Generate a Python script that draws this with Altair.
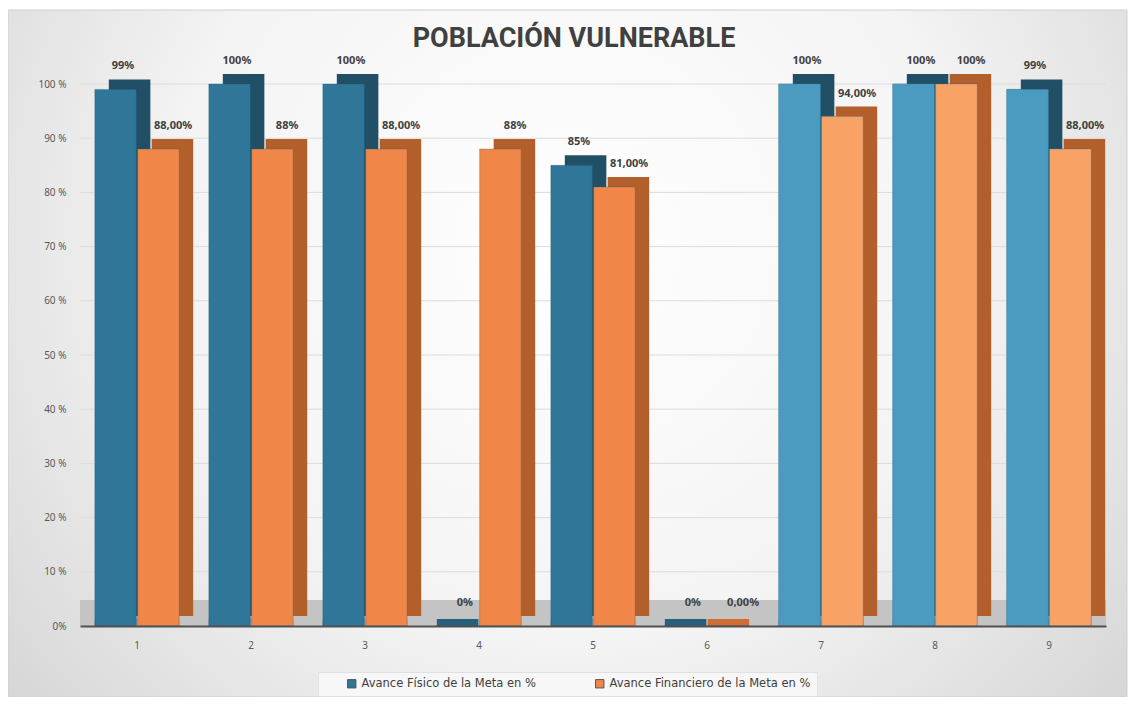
import altair as alt
import pandas as pd

categorias = ["1", "2", "3", "4", "5", "6", "7", "8", "9"]
series = ["Avance Físico de la Meta en %", "Avance Financiero de la Meta en %"]
fisico = [99, 100, 100, 0, 85, 0, 100, 100, 99]
financiero = [88, 88, 88, 88, 81, 0, 94, 100, 88]
etiq_fisico = ["99%", "100%", "100%", "0%", "85%", "0%", "100%", "100%", "99%"]
etiq_financiero = ["88,00%", "88%", "88,00%", "88%", "81,00%", "0,00%", "94,00%", "100%", "88,00%"]
ticks_y = [10, 20, 30, 40, 50, 60, 70, 80, 90, 100]
cats_claras = ["7", "8", "9"]
titulo = "POBLACIÓN VULNERABLE"

rows = []
for c, v, t in zip(categorias, fisico, etiq_fisico):
    rows.append({"cat": c, "serie": series[0], "valor": v, "etiqueta": t})
for c, v, t in zip(categorias, financiero, etiq_financiero):
    rows.append({"cat": c, "serie": series[1], "valor": v, "etiqueta": t})
df = pd.DataFrame(rows)

W, H = 1026, 542
PL, PT, PR, PB = 72, 76, 23, 71
DEPTH_X, DEPTH_Y = 14, -10

xscale = alt.Scale(paddingInner=0.26, paddingOuter=0.13)
xenc = alt.X("cat:N", sort=categorias, scale=xscale,
             axis=alt.Axis(title=None, labelAngle=0, ticks=False, labelPadding=14,
                           domainColor="#505050", domainWidth=2, zindex=1,
                           labelColor="#595959", labelFontSize=10, labelFont="Noto Sans"))
band = W / 9 * 0.74
xoff = alt.XOffset("serie:N", sort=series,
                   scale=alt.Scale(domain=series, paddingInner=0.03))
xoff_depth = alt.XOffset("serie:N", sort=series,
                         scale=alt.Scale(domain=series, paddingInner=0.03,
                                         range=[DEPTH_X, band + DEPTH_X]))
yscale = alt.Scale(domain=[0, 100])
yenc = alt.Y("valor:Q", scale=yscale,
             axis=alt.Axis(title=None, values=[0, 10, 20, 30, 40, 50, 60, 70, 80, 90, 100],
                           labelExpr="datum.value == 0 ? '0%' : datum.value + ' %'",
                           grid=False, ticks=False, domain=False, labelPadding=14, zindex=1,
                           labelColor="#595959", labelFontSize=10, labelFont="Noto Sans"))

fondo = alt.Chart(alt.Data(values=[{}])).mark_rect(
    color=alt.RadialGradient(
        gradient="radial", x1=0.5, y1=0.4, x2=0.5, y2=0.4, r1=0, r2=0.78,
        stops=[alt.GradientStop(offset=0, color="#ffffff"),
               alt.GradientStop(offset=0.45, color="#f4f4f4"),
               alt.GradientStop(offset=1, color="#c9c9c9")]),
    stroke="#d0d0d0", strokeWidth=1
).encode(x=alt.value(-PL), x2=alt.value(W + PR - 2),
         y=alt.value(-PT + 2), y2=alt.value(H + PB))

titulo_txt = alt.Chart(alt.Data(values=[{}])).mark_text(
    text=titulo, font="Roboto", fontSize=27, fontWeight="bold", color="#404040",
    align="center", baseline="alphabetic"
).encode(x=alt.value(W / 2 - 19), y=alt.value(-37))

piso = alt.Chart(alt.Data(values=[{}])).mark_rect(color="#c4c4c4").encode(
    x=alt.value(0), x2=alt.value(W), y=alt.value(H - 26), y2=alt.value(H))

grid = alt.Chart(pd.DataFrame({"t": ticks_y})).mark_rule(color="#dcdcdc", strokeWidth=1).encode(
    y=alt.Y("t:Q", scale=yscale), x=alt.value(0), x2=alt.value(W))

base = alt.Chart(df)

profundidad = base.mark_bar(yOffset=DEPTH_Y, y2Offset=DEPTH_Y).encode(
    x=xenc, xOffset=xoff_depth, y=yenc, y2=alt.datum(0),
    color=alt.Color("serie:N", sort=series,
                    scale=alt.Scale(domain=series, range=["#214f66", "#b35f2c"]), legend=None))

losa = base.mark_bar(yOffset=-7, y2Offset=0).encode(
    x=xenc, xOffset=xoff, y=alt.datum(0, scale=yscale), y2=alt.datum(0),
    color=alt.Color("serie:N", sort=series,
                    scale=alt.Scale(domain=series, range=["#285f7a", "#cf6d33"]), legend=None))

frente = base.mark_bar(stroke="#1f5a78", strokeWidth=0.6, strokeOpacity=0.5).encode(
    x=xenc, xOffset=xoff, y=yenc,
    color=alt.Color("serie:N", sort=series,
                    scale=alt.Scale(domain=series, range=["#2f7699", "#f08647"]),
                    legend=alt.Legend(title=None, orient="none", direction="horizontal",
                                      legendX=238, legendY=588, symbolType="square",
                                      symbolSize=70, labelFontSize=11.5, labelColor="#404040",
                                      labelFont="DejaVu Sans", columnPadding=36, labelLimit=400,
                                      fillColor="#f7f7f7", strokeColor="#e0e0e0",
                                      padding=6, symbolOffset=22, symbolStrokeWidth=1,
                                      symbolStrokeColor="#555555")))

frente_claro = base.mark_bar(stroke="#3d7fa0", strokeWidth=0.6, strokeOpacity=0.5).encode(
    x=xenc, xOffset=xoff, y=yenc,
    color=alt.Color("serie:N", sort=series,
                    scale=alt.Scale(domain=series, range=["#4b9ac0", "#f8a266"]), legend=None)
).transform_filter(alt.FieldOneOfPredicate(field="cat", oneOf=cats_claras))

etq_fis = base.mark_text(dy=-23, dx=7, fontSize=11, fontWeight="bold",
                         color="#404040", font="Noto Sans").encode(
    x=alt.X("cat:N", sort=categorias, scale=xscale),
    xOffset=xoff, y=alt.Y("valor:Q", scale=yscale), text="etiqueta:N"
).transform_filter(alt.datum.serie == series[0])

etq_fin = base.mark_text(dy=-23, dx=15, fontSize=11, fontWeight="bold",
                         color="#404040", font="Noto Sans").encode(
    x=alt.X("cat:N", sort=categorias, scale=xscale),
    xOffset=xoff, y=alt.Y("valor:Q", scale=yscale), text="etiqueta:N"
).transform_filter(alt.datum.serie == series[1])

chart = alt.layer(fondo, titulo_txt, piso, grid, profundidad, losa, frente, frente_claro,
                  etq_fis, etq_fin).resolve_scale(
    color="independent", xOffset="independent"
).properties(
    width=W, height=H,
    padding={"left": PL, "top": PT, "right": PR, "bottom": PB},
    autosize=alt.AutoSizeParams(type="none"),
    background="#ffffff",
).configure_view(stroke=None)

chart.save("out.html", embed_options={"renderer": "svg", "actions": False})
